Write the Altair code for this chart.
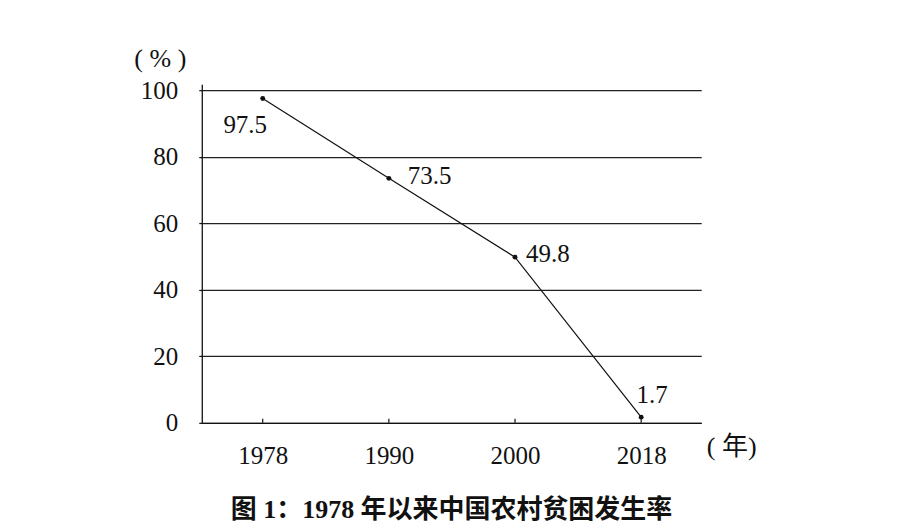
import altair as alt
import pandas as pd

# ---- data ----
years = ["1978", "1990", "2000", "2018"]
rates = [97.5, 73.5, 49.8, 1.7]
rate_labels = ["97.5", "73.5", "49.8", "1.7"]
y_ticks = [0, 20, 40, 60, 80, 100]

df = pd.DataFrame({
    "i": list(range(len(years))),
    "year": years,
    "rate": rates,
    "label": rate_labels,
})

SERIF = "Liberation Serif"
CJK = "Noto Sans CJK SC"
MIX = f"{SERIF}, {CJK}"
FS = 25

label_expr = "[" + ",".join(f"'{y}'" for y in years) + "][datum.value]"

x_enc = alt.X(
    "i:Q",
    scale=alt.Scale(domain=[-0.483, 3.476], nice=False, zero=False),
    axis=alt.Axis(
        values=list(range(len(years))),
        labelExpr=label_expr,
        grid=False,
        ticks=False,
        domain=True,
        domainColor="#111",
        domainWidth=1.3,
        labelFont=SERIF,
        labelFontSize=FS,
        labelColor="#111",
        labelPadding=21,
        title="( 年)",
        titleFont=MIX,
        titleFontSize=26,
        titleFontWeight="normal",
        titleColor="#111",
        titleAngle=0,
        titleAlign="center",
        titleBaseline="middle",
        titleX=530,
        titleY=24,
    ),
)
y_enc = alt.Y(
    "rate:Q",
    scale=alt.Scale(domain=[0, 101.8], nice=False, zero=True),
    axis=alt.Axis(
        values=y_ticks,
        grid=True,
        gridColor="#222",
        gridWidth=1.3,
        gridOpacity=1,
        ticks=True,
        tickSize=3,
        tickColor="#111",
        tickWidth=1.2,
        domain=True,
        domainColor="#111",
        domainWidth=1.3,
        labelFont=SERIF,
        labelFontSize=FS,
        labelColor="#111",
        labelPadding=21,
        title="( % )",
        titleFont=MIX,
        titleFontSize=26,
        titleFontWeight="normal",
        titleColor="#111",
        titleAngle=0,
        titleAlign="center",
        titleBaseline="middle",
        titleX=-42,
        titleY=-26,
    ),
)

base = alt.Chart(df)

line = base.mark_line(color="#111", strokeWidth=1.2).encode(x=x_enc, y=y_enc)
pts = base.mark_circle(color="#111", opacity=1, size=24).encode(x="i:Q", y="rate:Q")

# inward x-axis tick marks
xticks = base.mark_rule(color="#111", strokeWidth=1.2).encode(
    x="i:Q", y=alt.value(339), y2=alt.value(335)
)

# label placements (style): dx, dy, align per point
placements = [(-17.5, 27, "center"), (19, -2, "left"), (11, -3, "left"), (11, -22, "center")]
texts = []
for idx, (dx, dy, al) in enumerate(placements):
    texts.append(
        base.transform_filter(alt.datum.i == idx)
        .mark_text(font=SERIF, fontSize=FS, color="#111", dx=dx, dy=dy,
                   align=al, baseline="middle")
        .encode(x="i:Q", y="rate:Q", text="label:N")
    )

chart = alt.layer(line, xticks, pts, *texts).properties(
    width=500,
    height=339,
    autosize=alt.AutoSizeParams(type="none"),
    padding={"left": 194, "top": 76, "right": 190, "bottom": 104},
    background="white",
    title=alt.TitleParams(
        text="图 1：1978 年以来中国农村贫困发生率",
        orient="bottom",
        anchor="middle",
        frame="group",
        font=MIX,
        fontSize=26,
        fontWeight="bold",
        color="#111",
        offset=28,
    ),
).configure_view(stroke=None).configure_text(font=SERIF)

chart.save("out.html", embed_options={"renderer": "svg", "actions": False})
